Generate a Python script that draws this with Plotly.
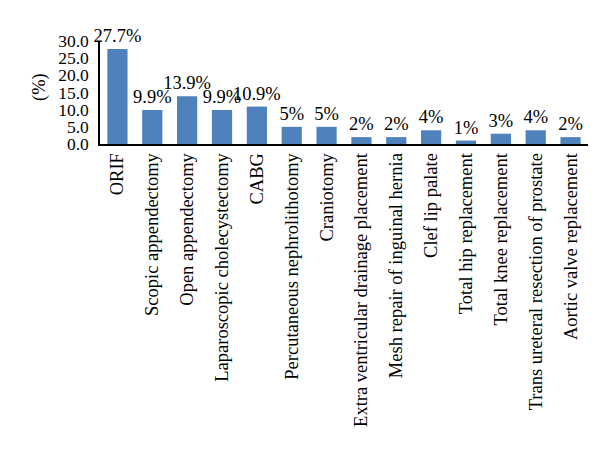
import plotly.graph_objects as go

categories = ["ORIF", "Scopic appendectomy", "Open appendectomy", "Laparoscopic cholecystectomy",
              "CABG", "Percutaneous nephrolithotomy", "Craniotomy",
              "Extra ventricular drainage placement", "Mesh repair of inguinal hernia",
              "Clef lip palate", "Total hip replacement", "Total knee replacement",
              "Trans ureteral resection of prostate", "Aortic valve replacement"]
values = [27.7, 9.9, 13.9, 9.9, 10.9, 5, 5, 2, 2, 4, 1, 3, 4, 2]
labels = ["27.7%", "9.9%", "13.9%", "9.9%", "10.9%", "5%", "5%", "2%", "2%", "4%", "1%", "3%", "4%", "2%"]
y_ticks = [0, 5, 10, 15, 20, 25, 30]

font_family = "Liberation Serif, Times New Roman, serif"
fs = 18.5

fig = go.Figure(go.Bar(
    x=categories, y=values, text=labels, textposition="outside",
    constraintext="none", cliponaxis=False,
    textfont=dict(family=font_family, size=fs, color="black"),
    outsidetextfont=dict(family=font_family, size=fs, color="black"),
    marker=dict(color="#4F81BD", line=dict(width=0)),
))

fig.update_layout(
    width=600, height=455,
    margin=dict(l=92, r=20, t=33, b=319),
    paper_bgcolor="white", plot_bgcolor="white",
    font=dict(family=font_family, size=fs, color="black"),
    bargap=0.42, showlegend=False,
    annotations=[dict(text="(%)", x=(31 - 92) / 488, y=(136 - 79) / 103, xref="paper", yref="paper",
                      showarrow=False, textangle=-90, xanchor="center", yanchor="middle",
                      font=dict(family=font_family, size=fs))],
)

fig.update_xaxes(tickangle=-90, showline=True, linecolor="black", linewidth=1.5,
                 ticks="", showgrid=False, tickfont=dict(family=font_family, size=fs))
fig.update_yaxes(range=[0, 30], tickvals=y_ticks, tickformat=".1f", showline=True,
                 linecolor="black", linewidth=1.5, ticks="", showgrid=False, zeroline=False,
                 ticklabelstandoff=6,
                 tickfont=dict(family=font_family, size=17.5))

fig.write_html("out.html")
